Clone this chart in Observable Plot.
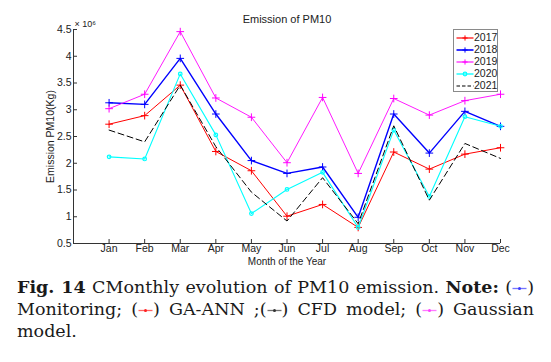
<!DOCTYPE html>
<html>
<head>
<meta charset="utf-8">
<script src="https://cdn.jsdelivr.net/npm/d3@7"></script>
<script src="https://cdn.jsdelivr.net/npm/@observablehq/plot@0.6"></script>
<style>
  html, body { margin: 0; padding: 0; background: #fff; }
  #wrap { position: relative; width: 551px; }
  #chart svg { display: block; }
  #legend { position: absolute; left: 453px; top: 29px; width: 43px; height: 61px; border: 1px solid #8a8a8a; background: #fff;
    font-family: "Liberation Sans", Arial, sans-serif; font-size: 10.5px; color: #222; }
  #legend .row { position: absolute; left: 2px; height: 12px; line-height: 12px; white-space: nowrap; }
  #legend svg { vertical-align: middle; }
  #caption { font-family: "DejaVu Serif", "Liberation Serif", serif; font-size: 17.5px; line-height: 22px; color: #1a1a1a;
    margin: 3.5px 17px 0 17px; }
  #caption div { white-space: nowrap; }
  #caption .j { text-align: justify; text-align-last: justify; }
  #caption .l { text-align: left; }
  .g { display: inline-block; vertical-align: middle; }
</style>
</head>
<body>
<div id="wrap">
  <div id="chart"></div>
  <div id="legend"></div>
  <div id="caption"></div>
</div>
<script>
const months = ["Jan","Feb","Mar","Apr","May","Jun","Jul","Aug","Sep","Oct","Nov","Dec"];
const seriesNames = ["2017","2018","2019","2020","2021"];
const y2017 = [2.73, 2.89, 3.46, 2.22, 1.86, 1.01, 1.23, 0.80, 2.21, 1.89, 2.17, 2.29];
const y2018 = [3.13, 3.10, 3.96, 2.92, 2.05, 1.81, 1.93, 0.99, 2.92, 2.19, 2.97, 2.69];
const y2019 = [3.02, 3.29, 4.46, 3.22, 2.86, 2.01, 3.23, 1.81, 3.21, 2.90, 3.17, 3.29];
const y2020 = [2.12, 2.08, 3.67, 2.53, 1.06, 1.51, 1.83, 0.80, 2.62, 1.38, 2.87, 2.69];
const y2021 = [2.62, 2.40, 3.46, 2.31, 1.46, 0.92, 1.73, 0.87, 2.70, 1.31, 2.37, 2.09];
const yTicks = [0.5, 1, 1.5, 2, 2.5, 3, 3.5, 4, 4.5];

const colors = {"2017": "#ff0000", "2018": "#0000ff", "2019": "#ff00ff", "2020": "#00ffff", "2021": "#000000"};
const widths = {"2017": 1, "2018": 1.4, "2019": 0.9, "2020": 1.1, "2021": 1};
const allValues = [y2017, y2018, y2019, y2020, y2021];

const rows = [];
seriesNames.forEach((s, i) => allValues[i].forEach((v, m) => rows.push({series: s, month: m + 1, value: v})));
const sub = s => rows.filter(d => d.series === s);

const marks = [
  Plot.ruleX([0], {stroke: "#333", strokeWidth: 1}),
  Plot.ruleY([0.5], {stroke: "#333", strokeWidth: 1}),
  Plot.axisX(d3.range(1, 13), {tickSize: -4, tickPadding: 5, tickFormat: d => months[d - 1], fontSize: 10.5, stroke: "#333", fill: "#222", label: null}),
  Plot.axisY(yTicks, {tickSize: -4, tickPadding: 6, tickFormat: d => String(d), fontSize: 10.5, stroke: "#333", fill: "#222", label: null}),
];
for (const s of seriesNames) {
  marks.push(Plot.line(sub(s), {x: "month", y: "value", stroke: colors[s], strokeWidth: widths[s],
    strokeDasharray: s === "2021" ? "6,3.5" : null}));
  if (s === "2020") marks.push(Plot.dot(sub(s), {x: "month", y: "value", r: 1.8, stroke: colors[s], strokeWidth: 1.2, fill: "none"}));
  else if (s !== "2021") marks.push(Plot.dot(sub(s), {x: "month", y: "value", symbol: "plus", r: 2.6, stroke: colors[s], strokeWidth: 1}));
}
marks.push(
  Plot.text(["Emission of PM10"], {frameAnchor: "top", lineAnchor: "middle", dy: -10, fontSize: 11, fill: "#222"}),
  Plot.text(["Month of the Year"], {frameAnchor: "bottom", lineAnchor: "middle", textAnchor: "middle", dy: 18, fontSize: 10, fill: "#222"}),
  Plot.text(["Emission PM10(Kg)"], {frameAnchor: "left", textAnchor: "middle", lineAnchor: "middle", dx: -23, rotate: -90, fontSize: 10.5, fill: "#222"}),
  Plot.text(["× 10⁶"], {frameAnchor: "top-left", lineAnchor: "middle", textAnchor: "start", dx: 1, dy: -5, fontSize: 9, fill: "#222"})
);

const chart = Plot.plot({
  width: 551,
  height: 272,
  marginLeft: 73,
  marginRight: 51,
  marginTop: 29,
  marginBottom: 29,
  style: {fontFamily: "'Liberation Sans', Arial, sans-serif", background: "#fff", overflow: "visible"},
  x: {domain: [0, 12]},
  y: {domain: [0.5, 4.5]},
  marks
});
document.getElementById("chart").appendChild(chart);

// legend
const legend = document.getElementById("legend");
seriesNames.forEach((s, i) => {
  const row = document.createElement("div");
  row.className = "row";
  row.style.top = (0.5 + i * 12.1) + "px";
  const c = colors[s];
  let marker = "";
  if (s === "2020") marker = `<circle cx="9" cy="5" r="1.8" fill="none" stroke="${c}" stroke-width="1.2"/>`;
  else if (s !== "2021") marker = `<path d="M6.4,5H11.6M9,2.4V7.6" stroke="${c}" stroke-width="1"/>`;
  const dash = s === "2021" ? ` stroke-dasharray="3.5,2"` : "";
  row.innerHTML = `<svg width="18" height="10"><line x1="0.5" x2="17.5" y1="5" y2="5" stroke="${c}" stroke-width="${s === "2021" ? 1.2 : widths[s] + 0.2}"${dash}/>${marker}</svg>${s}`;
  legend.appendChild(row);
});

// caption
const glyph = c => `<svg class="g" width="15" height="10"><line x1="0.5" x2="14.5" y1="5.5" y2="5.5" stroke="${c}" stroke-width="1.3" opacity="0.7"/><circle cx="7.5" cy="5.5" r="1.5" fill="${c}"/></svg>`;
document.getElementById("caption").innerHTML =
  `<div class="j"><b>Fig. 14</b> CMonthly evolution of PM10 emission. <b>Note:</b> (${glyph("#3b3bff")})</div>` +
  `<div class="j">Monitoring; (${glyph("#ff2020")}) GA-ANN ;(${glyph("#333")}) CFD model; (${glyph("#ff40ff")}) Gaussian</div>` +
  `<div class="l">model.</div>`;
</script>
</body>
</html>
